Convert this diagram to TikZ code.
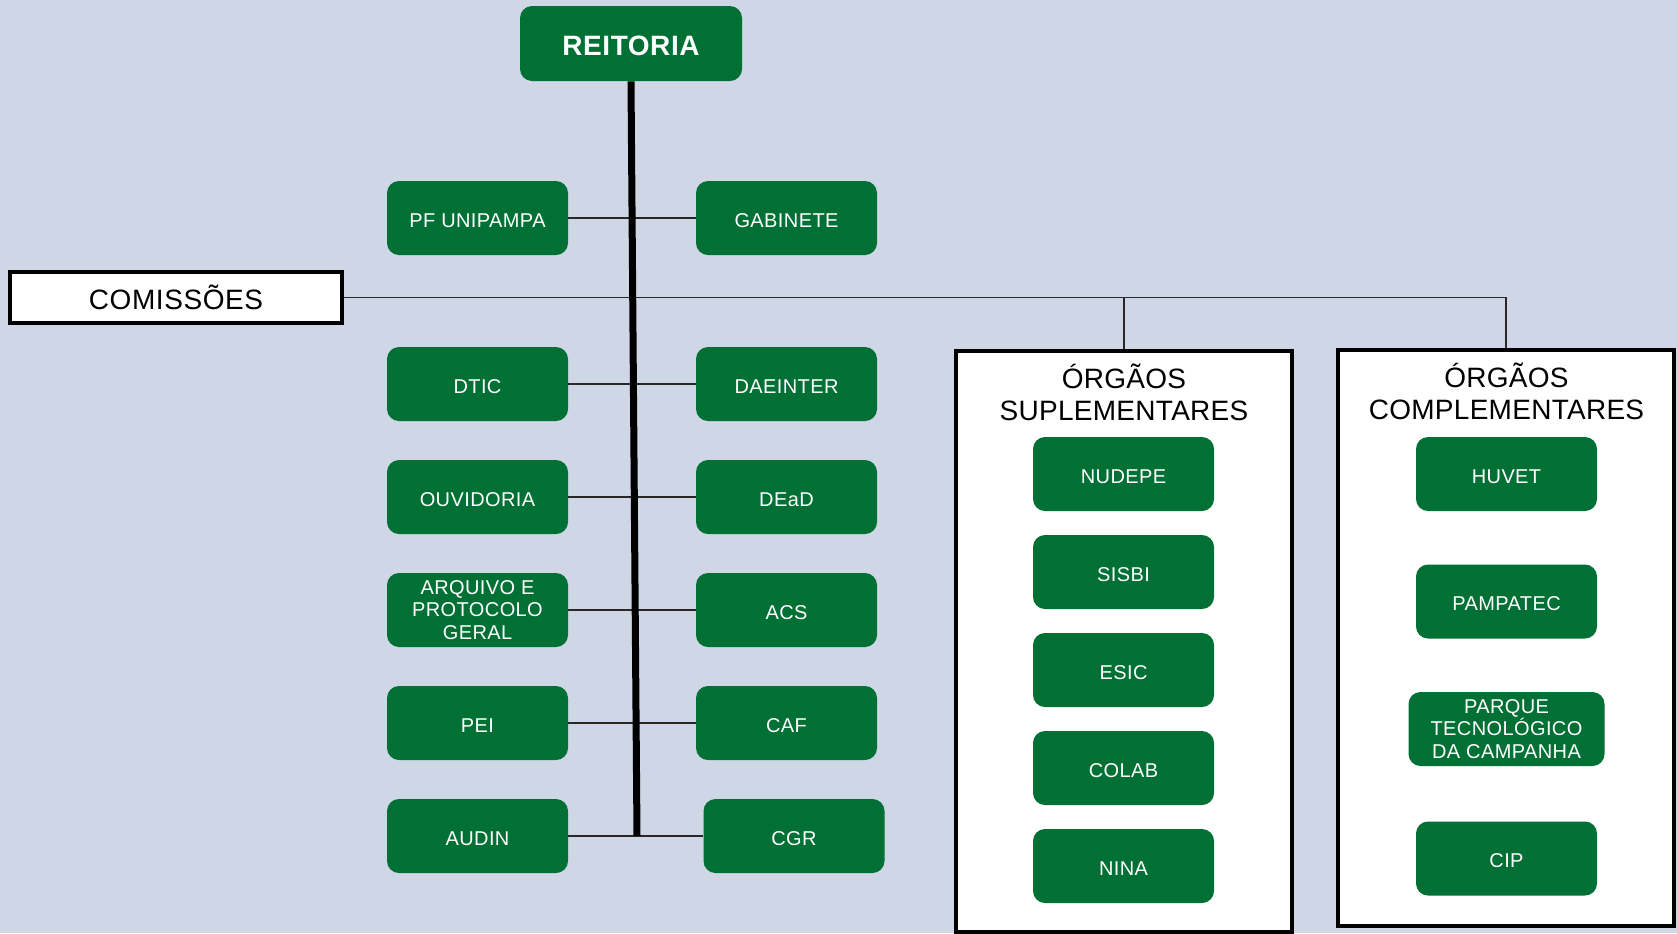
\documentclass[tikz,border=0pt]{standalone}
\usepackage{fontspec}
\setmainfont{Liberation Sans}
\definecolor{bgblue}{RGB}{207,215,231}
\definecolor{ugreen}{RGB}{0,112,52}
\definecolor{lgray}{RGB}{40,40,40}

\begin{document}
\begin{tikzpicture}[x=0.5pt,y=-0.5pt]
\tikzstyle{gbox}=[rectangle, rounded corners=6pt, fill=ugreen, text=white, minimum width=90.5pt, minimum height=37pt, align=center, inner sep=1pt, text height=9.2pt, text depth=0pt, font=\fontsize{10}{11.25}\selectfont\addfontfeatures{LetterSpace=2}]
\tikzstyle{gbox3}=[gbox, text height={}, text depth={}]
\tikzstyle{wbox}=[rectangle, draw=black, line width=1.6pt, fill=white]
\tikzstyle{ttl}=[align=center, inner sep=0pt, font=\fontsize{14}{16}\selectfont\addfontfeatures{LetterSpace=1}]
\tikzstyle{lnk}=[draw=lgray, line width=0.6pt]
\useasboundingbox (0,0) rectangle (1677,933);
\fill[bgblue] (0,0) rectangle (1677,933);

\node (reit) [gbox, minimum width=111pt, minimum height=37.5pt, text height=11.5pt, font=\fontsize{14}{16}\selectfont\bfseries\addfontfeatures{LetterSpace=2}] at (631,43.5) {REITORIA};
\node (com) [wbox, minimum width=166pt, minimum height=25.5pt, font=\fontsize{14}{16}\selectfont\addfontfeatures{LetterSpace=2}] at (176,297.5) {COMISSÕES};

% colunas da reitoria
\node (pf) [gbox] at (477.5,218) {PF UNIPAMPA};
\node (gab) [gbox] at (786.5,218) {GABINETE};
\begin{scope}[node distance=56.5pt]
\node (dtic) [gbox] at (477.5,384) {DTIC};
\node (ouv) [gbox,below of=dtic] {OUVIDORIA};
\node (arq) [gbox3,below of=ouv] {ARQUIVO E\\PROTOCOLO\\GERAL};
\node (pei) [gbox,below of=arq] {PEI};
\node (aud) [gbox,below of=pei] {AUDIN};
\node (dae) [gbox] at (786.5,384) {DAEINTER};
\node (dead) [gbox,below of=dae] {DEaD};
\node (acs) [gbox,below of=dead] {ACS};
\node (caf) [gbox,below of=acs] {CAF};
\end{scope}
\node (cgr) [gbox] at (794,836) {CGR};

% orgaos suplementares
\node (sup) [wbox, minimum width=168pt, minimum height=290.5pt] at (1124,641.5) {};
\node (supt) [ttl] at (1124,392) {ÓRGÃOS\\SUPLEMENTARES};
\begin{scope}[node distance=49pt]
\node (nud) [gbox] at (1123.5,474) {NUDEPE};
\node (sis) [gbox,below of=nud] {SISBI};
\node (esic) [gbox,below of=sis] {ESIC};
\node (col) [gbox,below of=esic] {COLAB};
\node (nina) [gbox,below of=col] {NINA};
\end{scope}

% orgaos complementares
\node (comp) [wbox, minimum width=168pt, minimum height=288pt] at (1506,638) {};
\node (compt) [ttl] at (1506.5,391) {ÓRGÃOS\\COMPLEMENTARES};
\begin{scope}[node distance=63.75pt]
\node (huv) [gbox] at (1506.5,474) {HUVET};
\node (pamp) [gbox,below of=huv] {PAMPATEC};
\node (parq) [gbox3,below of=pamp, minimum width=98pt] {PARQUE\\TECNOLÓGICO\\DA CAMPANHA};
\node (cip) [gbox,below of=parq, yshift=-1pt] {CIP};
\end{scope}

% ligacoes
\coordinate (tend) at (637,836);
\draw[lnk] (pf) -- (gab);
\draw[lnk] (dtic) -- (dae);
\draw[lnk] (ouv) -- (dead);
\draw[lnk] (arq) -- (acs);
\draw[lnk] (pei) -- (caf);
\draw[lnk] (aud) -- (cgr);
\draw[lnk] (com.east) -| (comp.north);
\draw[lnk] (com.east) -| (sup.north);
\draw[line width=3.5pt] (reit.south) -- (tend);
\end{tikzpicture}
\end{document}
